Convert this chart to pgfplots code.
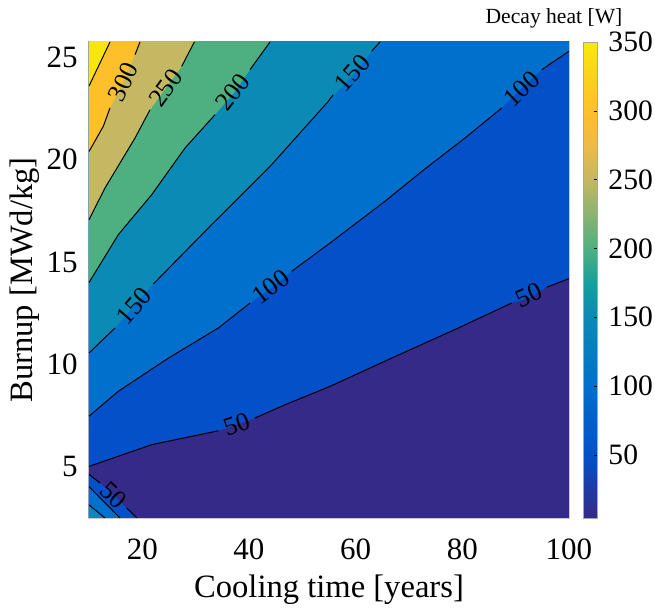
\documentclass[border=0pt]{standalone}
\usepackage{fontspec}
\setmainfont{Liberation Serif}
\usepackage{pgfplots}
\pgfplotsset{compat=1.18}
\pgfkeys{/pgf/number format/assume math mode=true}
\definecolor{c0}{RGB}{53,42,135}
\definecolor{c50}{RGB}{3,80,200}
\definecolor{c100}{RGB}{0,112,204}
\definecolor{c150}{RGB}{10,138,180}
\definecolor{c200}{RGB}{78,176,128}
\definecolor{c250}{RGB}{196,184,98}
\definecolor{c300}{RGB}{253,192,42}
\definecolor{c350}{RGB}{250,230,10}
\tikzset{clab/.style={font=\fontsize{13}{14}\selectfont, inner sep=0pt}}
\begin{document}
\begin{tikzpicture}
\begin{axis}[
  at={(0,0)}, anchor=south west,
  scale only axis, width=240pt, height=238pt,
  xmin=10, xmax=100, ymin=2.5, ymax=25.75,
  xtick={20,40,60,80,100}, ytick={5,10,15,20,25},
  major tick length=0pt,
  axis line style={draw=gray!40, line width=0.6pt},
  tick label style={font=\fontsize{15.5}{17}\selectfont},
  xticklabel style={anchor=north, inner sep=0pt, yshift=-10pt},
  yticklabel style={anchor=east, inner sep=0pt, xshift=-5.5pt},
  xlabel={Cooling time [years]}, ylabel={Burnup [MWd/kg]},
  label style={font=\fontsize{16.3}{18}\selectfont},
  xlabel style={at={(axis description cs:0.5,-0.1513)}, anchor=center},
  ylabel style={at={(axis description cs:-0.1333,0.5)}, anchor=center},
  colorbar,
  colormap={parulaish}{rgb255(4.2pt)=(53,42,135); rgb255(50pt)=(3,80,200); rgb255(100pt)=(0,112,204); rgb255(150pt)=(10,138,180); rgb255(175pt)=(20,160,158); rgb255(200pt)=(78,176,128); rgb255(250pt)=(196,184,98); rgb255(275pt)=(238,186,70); rgb255(300pt)=(253,192,42); rgb255(325pt)=(250,210,28); rgb255(350pt)=(250,232,10)},
  point meta min=4.2, point meta max=350,
  colorbar style={
    at={(parent axis.north east)}, anchor=north west, xshift=-1.5pt,
    scale only axis, width=7pt, height=238pt,
    ytick={50,100,150,200,250,300,350},
    yticklabel style={font=\fontsize{14.8}{16}\selectfont, anchor=west, inner sep=0pt, xshift=5.5pt},
    major tick length=1.5pt, tick align=inside, ytick pos=right,
    axis line style={draw=gray!70},
    tick style={black},
  },
]
% filled bands
\addplot[fill=c0, draw=none] coordinates {(0,0) (110,0) (110,30) (0,30)} -- cycle;
\addplot[fill=c50, draw=none] coordinates {(10,5.02) (21.75,6.08) (34.25,6.76) (37.7,7.06) (41.1,7.38) (46.75,8.03) (55.2,8.93) (66.75,10.31) (79.25,11.78) (89.25,13.0) (92.7,13.24) (95.8,13.77) (100,14.19) (110,14.19) (110,30) (0,30) (0,5.02)} -- cycle;
\addplot[fill=c100, draw=none] coordinates {(10,7.47) (15.5,8.69) (24.88,10.31) (34.25,11.78) (40.19,13.0) (44.1,13.73) (48.0,14.55) (55.19,15.93) (65.5,17.97) (72.4,19.43) (80.5,21.06) (87.4,22.53) (91.1,23.5) (94.9,24.4) (100,25.30) (110,25.3) (110,30) (0,30) (0,7.47)} -- cycle;
\addplot[fill=c150, draw=none] coordinates {(10,10.56) (14.88,11.78) (18.63,12.92) (22.06,13.93) (33.0,16.83) (38.63,18.29) (44.25,19.76) (54.7,22.8) (59.56,24.15) (63.0,25.30) (64.56,25.75) (64.56,30) (0,30) (0,10.56)} -- cycle;
\addplot[fill=c200, draw=none] coordinates {(10,14.0) (15.5,16.34) (21.75,18.29) (28.0,20.57) (33.63,22.20) (37.25,23.29) (40.19,24.40) (43.94,25.75) (43.94,30) (0,30) (0,14.0)} -- cycle;
\addplot[fill=c250, draw=none] coordinates {(10,17.07) (13.0,18.62) (18.63,21.06) (21.44,22.44) (24.4,23.5) (27.38,24.56) (29.75,25.75) (29.75,30) (0,30) (0,17.07)} -- cycle;
\addplot[fill=c300, draw=none] coordinates {(10,20.4) (12.68,21.63) (13.94,22.53) (16.45,23.8) (18.63,25.13) (19.56,25.75) (19.56,30) (0,30) (0,20.4)} -- cycle;
\addplot[fill=c350, draw=none] coordinates {(10,23.6) (13.94,25.75) (13.94,30) (0,30) (0,23.6)} -- cycle;
% bottom-left corner
\addplot[fill=c50, draw=none] coordinates {(10,4.63) (12.06,4.21) (14.56,3.61) (17.07,2.99) (19.0,2.5) (19,0) (0,0) (0,4.63)} -- cycle;
\addplot[fill=c100, draw=none] coordinates {(10,4.03) (15.8,2.5) (15.8,0) (0,0) (0,4.03)} -- cycle;
\addplot[fill=c150, draw=none] coordinates {(10,3.14) (13.0,2.5) (13,0) (0,0) (0,3.14)} -- cycle;
% contour lines
\addplot[black, line width=0.5pt] coordinates {(13.94,25.75) (10,23.6)};
\addplot[black, line width=0.5pt] coordinates {(19.56,25.75) (18.63,25.13)};
\addplot[black, line width=0.5pt] coordinates {(13.94,22.53) (12.68,21.63) (10,20.4)};
\addplot[black, line width=0.5pt] coordinates {(29.75,25.75) (27.38,24.56)};
\addplot[black, line width=0.5pt] coordinates {(21.44,22.44) (18.63,21.06) (13.0,18.62) (10,17.07)};
\addplot[black, line width=0.5pt] coordinates {(43.94,25.75) (40.19,24.40)};
\addplot[black, line width=0.5pt] coordinates {(33.63,22.20) (28.0,20.57) (21.75,18.29) (15.5,16.34) (10,14.0)};
\addplot[black, line width=0.5pt] coordinates {(64.56,25.75) (63.0,25.30)};
\addplot[black, line width=0.5pt] coordinates {(55.81,23.18) (54.7,22.8) (44.25,19.76) (38.63,18.29) (33.0,16.83) (22.06,13.93)};
\addplot[black, line width=0.5pt] coordinates {(14.88,11.78) (10,10.56)};
\addplot[black, line width=0.5pt] coordinates {(100,25.30) (94.9,24.4)};
\addplot[black, line width=0.5pt] coordinates {(87.4,22.53) (80.5,21.06) (72.4,19.43) (65.5,17.97) (55.19,15.93) (48.0,14.55)};
\addplot[black, line width=0.5pt] coordinates {(40.19,13.0) (34.25,11.78) (24.88,10.31) (15.5,8.69) (10,7.47)};
\addplot[black, line width=0.5pt] coordinates {(100,14.19) (95.8,13.77)};
\addplot[black, line width=0.5pt] coordinates {(89.25,13.0) (79.25,11.78) (66.75,10.31) (55.2,8.93) (46.75,8.03) (41.1,7.38)};
\addplot[black, line width=0.5pt] coordinates {(34.25,6.76) (21.75,6.08) (10,5.02)};
\addplot[black, line width=0.5pt] coordinates {(10,4.63) (12.06,4.21)};
\addplot[black, line width=0.5pt] coordinates {(17.07,2.99) (19.0,2.5)};
\addplot[black, line width=0.5pt] coordinates {(10,4.03) (15.8,2.5)};
\addplot[black, line width=0.5pt] coordinates {(10,3.14) (13.0,2.5)};
% contour labels
\node[clab, rotate=64.8] at (axis cs:16.45,23.8) {300};
\node[clab, rotate=53.9] at (axis cs:24.41,23.5) {250};
\node[clab, rotate=52.1] at (axis cs:36.91,23.3) {200};
\node[clab, rotate=48.6] at (axis cs:59.4,24.24) {150};
\node[clab, rotate=49] at (axis cs:18.47,12.86) {150};
\node[clab, rotate=43.8] at (axis cs:91.15,23.47) {100};
\node[clab, rotate=37.2] at (axis cs:44.1,13.78) {100};
\node[clab, rotate=24.3] at (axis cs:92.5,13.39) {50};
\node[clab, rotate=19.2] at (axis cs:37.68,7.07) {50};
\node[clab, rotate=-43] at (axis cs:14.56,3.6) {50};
\end{axis}
\node[font=\fontsize{10.8}{12}\selectfont, inner sep=0pt] at (232.5pt,250pt) {Decay heat [W]};
\pgfresetboundingbox
\path[use as bounding box] (-44.5pt,-46pt) rectangle (283pt,259pt);
\end{tikzpicture}
\end{document}
